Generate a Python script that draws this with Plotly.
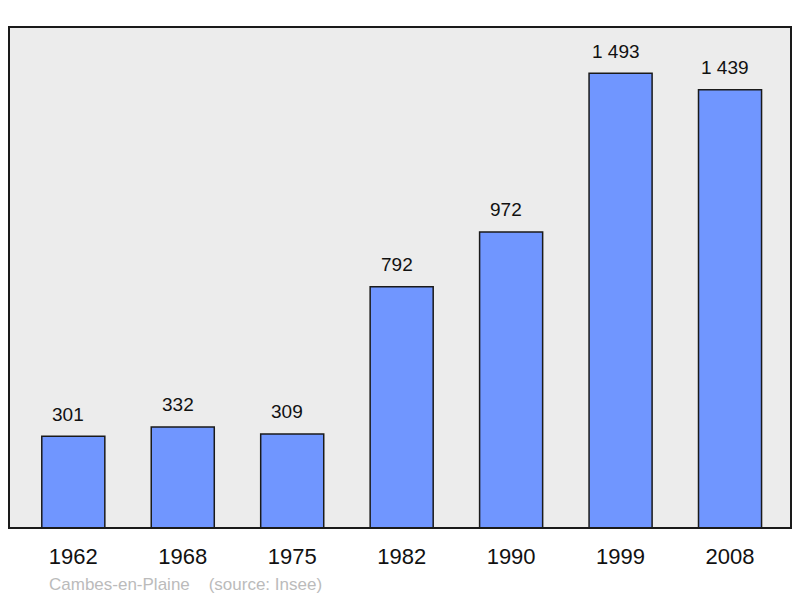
import plotly.graph_objects as go

years = ["1962", "1968", "1975", "1982", "1990", "1999", "2008"]
population = [301, 332, 309, 792, 972, 1493, 1439]
value_labels = ["301", "332", "309", "792", "972", "1 493", "1 439"]
source_text = "Cambes-en-Plaine    (source: Insee)"

W, H = 800, 598
ml, mr, mt, mb = 9, 9, 27, 70

xpos = list(range(len(years)))

fig = go.Figure()
fig.add_trace(go.Bar(
    x=xpos, y=population, width=0.576,
    marker=dict(color="#7096FF", line=dict(color="#1a1a1a", width=1.5)),
    hoverinfo="skip",
))

for xi, v, lab in zip(xpos, population, value_labels):
    fig.add_annotation(x=xi, y=v, xref="x", yref="y", text=lab, showarrow=False,
                       yanchor="middle", yshift=22, xshift=-5,
                       font=dict(family="Liberation Sans, Arial", size=19, color="#111111"))

fig.add_annotation(x=(49 - ml) / (W - ml - mr), y=-(584 - (H - mb)) / (H - mt - mb),
                   xref="paper", yref="paper", text=source_text.replace(" ", "&nbsp;"),
                   showarrow=False, xanchor="left", yanchor="middle", xshift=-2,
                   font=dict(family="Liberation Sans, Arial", size=17, color="#BBBBBB"))

fig.add_shape(type="rect", xref="paper", yref="paper", x0=0, y0=0, x1=1, y1=1,
              line=dict(color="#1a1a1a", width=2), layer="above")

fig.update_layout(
    width=W, height=H,
    margin=dict(l=ml, r=mr, t=mt, b=mb),
    paper_bgcolor="white", plot_bgcolor="#ECECEC",
    showlegend=False,
    xaxis=dict(range=[-0.5875, 6.557], tickvals=xpos, ticktext=years,
               showgrid=False, zeroline=False, ticks="outside", ticklen=9,
               tickcolor="rgba(0,0,0,0)",
               tickfont=dict(family="Liberation Sans, Arial", size=22, color="#111111")),
    yaxis=dict(range=[0, 1645], showgrid=False, zeroline=False,
               showticklabels=False, ticks=""),
)

fig.write_html("out.html", config={"displayModeBar": False})
with open("out.html", encoding="utf-8") as f:
    html = f.read()
html = html.replace("<body>", '<body style="margin:0;padding:0;overflow:hidden">', 1)
with open("out.html", "w", encoding="utf-8") as f:
    f.write(html)
